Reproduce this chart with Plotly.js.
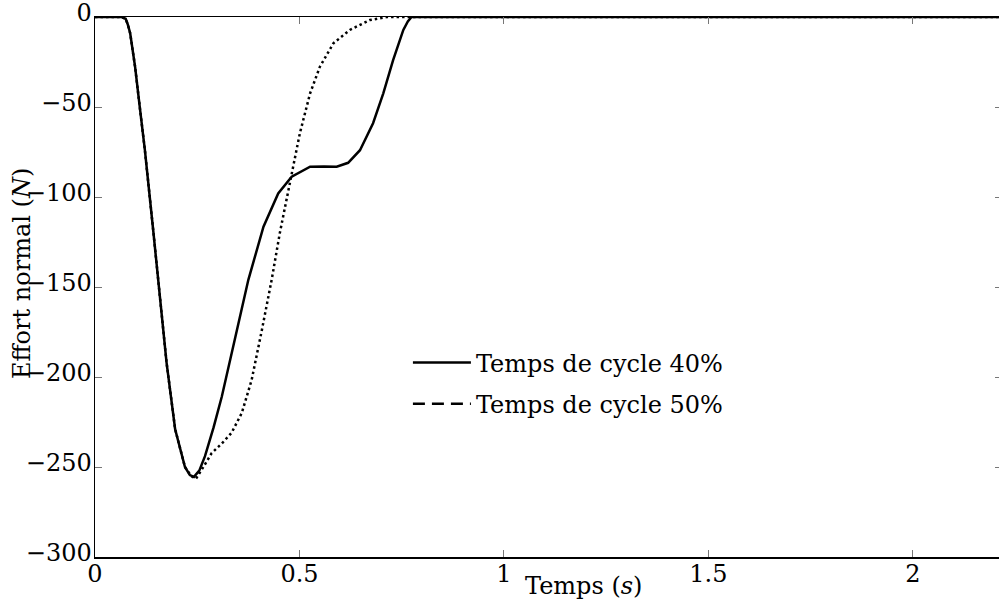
<!DOCTYPE html>
<html>
<head>
<meta charset="utf-8">
<script src="https://cdn.plot.ly/plotly-3.0.1.min.js"></script>
<style>
  html, body { margin: 0; padding: 0; overflow: hidden; background: #fff; }
  #chart { width: 1010px; height: 602px; }
</style>
</head>
<body>
<div id="chart"></div>
<script>
// Time (s) and normal force (N), cycle time 40%
const t40 = [0, 0.05, 0.065, 0.075, 0.08, 0.086, 0.098, 0.11, 0.122, 0.143, 0.159, 0.175, 0.196, 0.220, 0.232, 0.242, 0.255, 0.269, 0.290, 0.310, 0.342, 0.375, 0.412, 0.448, 0.481, 0.526, 0.560, 0.591, 0.619, 0.648, 0.680, 0.705, 0.729, 0.754, 0.765, 0.774, 1.0, 1.5, 2.0, 2.25];
const f40 = [0, 0, 0, -1, -4, -9, -27.6, -51, -74, -120, -157, -192, -229, -250, -254.5, -255.5, -252, -244, -228, -211, -179, -146, -116.5, -98, -88.7, -83.2, -83, -83.2, -81, -74, -59, -42.4, -24, -7.2, -2.5, 0, 0, 0, 0, 0];

// Time (s) and normal force (N), cycle time 50%
const t50 = [0, 0.05, 0.065, 0.075, 0.08, 0.086, 0.098, 0.11, 0.122, 0.143, 0.159, 0.175, 0.196, 0.220, 0.235, 0.247, 0.265, 0.285, 0.31, 0.334, 0.359, 0.383, 0.408, 0.432, 0.452, 0.481, 0.501, 0.526, 0.550, 0.583, 0.623, 0.672, 0.713, 1.0, 1.5, 2.0, 2.25];
const f50 = [0, 0, 0, -1, -4, -9, -27.6, -51, -74, -120, -157, -192, -229, -250, -255, -256.5, -250, -242.4, -237, -231, -220, -201.7, -174, -146, -120, -86.8, -64.6, -42.4, -27.6, -14.6, -7.2, -1.7, 0, 0, 0, 0, 0];

const names = ['Temps de cycle 40%', 'Temps de cycle 50%'];
const xTicks = [0, 0.5, 1, 1.5, 2];
const xTickText = ['0', '0.5', '1', '1.5', '2'];
const yTicks = [-300, -250, -200, -150, -100, -50, 0];
const yTickText = ['\u2212300', '\u2212250', '\u2212200', '\u2212150', '\u2212100', '\u221250', '0'];
const xTitle = 'Temps (<i>s</i>)';
const yTitle = 'Effort normal (<i>N</i>)';

const FONT = 'DejaVu Serif, serif';
const FS = 24;

const traces = [
  {
    x: t40, y: f40, type: 'scatter', mode: 'lines', name: names[0],
    line: { color: '#000', width: 2.5 }, legendgroup: 'a'
  },
  {
    x: t50, y: f50, type: 'scatter', mode: 'lines', name: names[1],
    line: { color: '#000', width: 2.5, dash: '2.5px,3px' }, showlegend: false
  },
  {
    x: [null], y: [null], type: 'scatter', mode: 'lines', name: names[1],
    line: { color: '#000', width: 2.5, dash: '12px,7px' }, legendgroup: 'b'
  }
];

const layout = {
  width: 1010, height: 602,
  margin: { l: 95, r: 8, t: 17, b: 45 },
  paper_bgcolor: '#fff', plot_bgcolor: '#fff',
  font: { family: FONT, size: FS, color: '#000' },
  showlegend: true,
  legend: {
    x: 0.345, y: 0.401, xanchor: 'left', yanchor: 'top',
    bgcolor: 'rgba(0,0,0,0)', borderwidth: 0,
    font: { family: FONT, size: FS, color: '#000' },
    traceorder: 'grouped', tracegroupgap: 7, itemwidth: 58
  },
  xaxis: {
    range: [0, 2.218], showgrid: false, zeroline: false,
    tickmode: 'array', tickvals: xTicks, ticktext: xTickText,
    ticks: 'inside', ticklen: 7, tickwidth: 1, tickcolor: '#777',
    showline: true, linecolor: '#000', linewidth: 1.5, mirror: 'ticks',
    tickfont: { family: FONT, size: FS, color: '#000' },
    ticklabelstandoff: -5,
    automargin: false
  },
  yaxis: {
    range: [-300, 0], showgrid: false, zeroline: false,
    tickmode: 'array', tickvals: yTicks, ticktext: yTickText,
    ticks: 'inside', ticklen: 7, tickwidth: 1, tickcolor: '#777',
    showline: true, linecolor: '#000', linewidth: 1.5, mirror: 'ticks',
    tickfont: { family: FONT, size: FS, color: '#000' },
    ticklabelstandoff: -3, ticklabelshift: -4, ticklabeloverflow: 'allow',
    automargin: false
  },
  annotations: [
    {
      text: xTitle, xref: 'paper', yref: 'paper', x: 0.539, y: -0.0537,
      xanchor: 'center', yanchor: 'middle', showarrow: false,
      font: { family: FONT, size: FS, color: '#000' }
    },
    {
      text: yTitle, xref: 'paper', yref: 'paper', x: -0.0805, y: 0.526,
      xanchor: 'center', yanchor: 'middle', textangle: -90, showarrow: false,
      font: { family: FONT, size: FS, color: '#000' }
    }
  ]
};

Plotly.newPlot('chart', traces, layout, { displayModeBar: false, staticPlot: true });
</script>
</body>
</html>
